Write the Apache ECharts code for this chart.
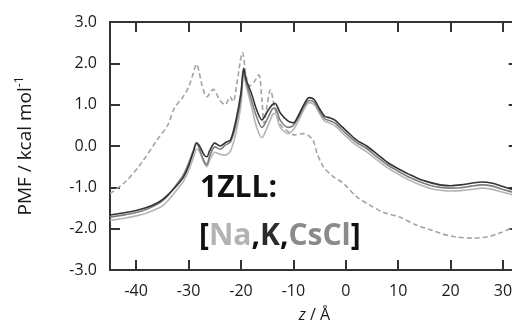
<!DOCTYPE html>
<html>
<head>
<meta charset="utf-8">
<script src="https://cdn.jsdelivr.net/npm/echarts@6/dist/echarts.min.js"></script>
<style>
  html, body { margin: 0; padding: 0; background: #fff; }
  #chart { width: 512px; height: 331px; }
  #err { position: absolute; left: 120px; top: 30px; font: 10px monospace; color: #c00; width: 380px; }
</style>
</head>
<body>
<div id="chart"></div>
<div id="err"></div>
<script>
window.onerror = (msg) => {
  document.getElementById("err").textContent += " ERR: " + msg;
};

// z positions (Å) for the three solid PMF curves
const zSolid = [-45, -42, -40, -38, -36, -35, -34, -33, -32, -31, -30, -29, -28.5, -28, -27, -26.5, -26, -25, -24, -23, -22, -21, -20, -19.5, -19, -18, -17, -16, -15, -14, -13.5, -12.5, -11, -10, -9, -8, -7, -6, -5, -4, -3, -2, -1, 0, 2, 4, 6, 8, 10, 12, 14, 16, 18, 20, 22, 24, 26, 28, 30, 33];

const pmfK = [-1.67, -1.61, -1.56, -1.49, -1.38, -1.3, -1.19, -1.06, -0.92, -0.76, -0.48, -0.1, 0.08, 0.02, -0.22, -0.26, -0.12, 0.07, 0.0, 0.08, 0.15, 0.6, 1.3, 1.88, 1.6, 1.27, 0.87, 0.63, 0.83, 1.0, 1.03, 0.8, 0.6, 0.56, 0.75, 1.0, 1.17, 1.12, 0.9, 0.72, 0.68, 0.62, 0.5, 0.38, 0.15, 0.0, -0.2, -0.4, -0.55, -0.68, -0.8, -0.88, -0.94, -0.96, -0.94, -0.9, -0.87, -0.9, -0.98, -1.1];

const pmfCsCl = [-1.72, -1.66, -1.61, -1.53, -1.41, -1.33, -1.21, -1.05, -0.88, -0.7, -0.42, -0.08, 0.06, -0.05, -0.38, -0.45, -0.25, -0.02, -0.08, 0.02, 0.1, 0.5, 1.2, 1.82, 1.55, 1.1, 0.7, 0.45, 0.65, 0.9, 0.92, 0.62, 0.45, 0.5, 0.7, 0.95, 1.1, 1.06, 0.84, 0.66, 0.61, 0.55, 0.43, 0.31, 0.09, -0.06, -0.27, -0.46, -0.61, -0.75, -0.86, -0.95, -1.0, -1.02, -1.01, -0.97, -0.94, -0.97, -1.05, -1.16];

const pmfNa = [-1.8, -1.74, -1.69, -1.62, -1.52, -1.45, -1.33, -1.18, -1.02, -0.86, -0.6, -0.25, -0.08, -0.12, -0.42, -0.5, -0.35, -0.15, -0.2, -0.22, -0.12, 0.3, 1.0, 1.72, 1.45, 0.95, 0.45, 0.2, 0.45, 0.75, 0.79, 0.45, 0.3, 0.4, 0.62, 0.88, 1.05, 1.0, 0.78, 0.6, 0.55, 0.48, 0.36, 0.24, 0.02, -0.14, -0.34, -0.53, -0.68, -0.82, -0.93, -1.02, -1.07, -1.09, -1.08, -1.05, -1.02, -1.05, -1.12, -1.22];

// dashed reference curve
const zDashed = [-45, -42, -39, -36, -34, -32.7, -31, -30, -29.2, -28.5, -28, -27.5, -26.5, -25.3, -24, -23, -22.1, -21.5, -20.8, -19.7, -19, -18.3, -17.5, -16.6, -16, -15.6, -15, -14.4, -13.5, -12.4, -11, -9.9, -8, -6.3, -5.5, -4.3, -2.4, -0.5, 2.1, 4.6, 7.1, 10.3, 13.4, 16, 18.5, 21, 24.2, 27.3, 29.5, 31.5, 33];
const pmfDashed = [-1.15, -0.86, -0.41, 0.15, 0.5, 0.92, 1.2, 1.43, 1.72, 1.98, 1.8, 1.5, 1.19, 1.37, 1.1, 1.0, 1.19, 1.07, 1.5, 2.26, 1.68, 1.45, 1.55, 1.72, 1.1, 0.55, 1.0, 1.36, 0.9, 0.5, 0.35, 0.27, 0.3, 0.15, -0.17, -0.5, -0.74, -0.9, -1.23, -1.43, -1.6, -1.72, -1.91, -2.02, -2.13, -2.2, -2.23, -2.19, -2.1, -2.0, -1.95];

const zTicks = [-40, -30, -20, -10, 0, 10, 20, 30];

const Z_MIN = -45;
const Z_MAX = 33;
const PMF_MIN = -3;
const PMF_MAX = 3;

const FONT = "'Open Sans', sans-serif";
const AXIS_COLOR = "#333";

const pairs = (xs, ys) => xs.map((x, i) => [x, ys[i]]);

const chart = echarts.init(document.getElementById("chart"), null, { renderer: "canvas" });

const lineSeries = (name, data, color, dashed) => ({
  name: name,
  type: "line",
  data: data,
  showSymbol: false,
  smooth: 0.3,
  lineStyle: {
    width: 1.6,
    color: color,
    type: dashed ? [5, 3] : "solid",
  },
  z: 3,
});

// ticks only show with onZero axes here, so each frame axis is pinned "on zero"
// of a hidden helper axis whose zero sits on the wanted edge
const frameLine = (helperIndex) => ({
  show: true,
  onZero: true,
  onZeroAxisIndex: helperIndex,
  lineStyle: { color: AXIS_COLOR, width: 2 },
});
const tick = (custom) => {
  const t = { show: true, inside: true, length: 10, lineStyle: { color: AXIS_COLOR, width: 2 } };
  if (custom) t.customValues = custom.slice();
  return t;
};
const helperAxis = (min, max) => ({
  type: "value",
  show: false,
  min: min,
  max: max,
  splitLine: { show: false },
});

const option = {
  backgroundColor: "#fff",
  animation: false,
  grid: {
    left: 110,
    top: 22,
    width: 408.7,
    height: 248,
    outerBoundsMode: "none",
  },
  xAxis: [
    {
      type: "value",
      min: Z_MIN,
      max: Z_MAX,
      position: "bottom",
      axisLine: frameLine(2),
      axisTick: tick(zTicks),
      axisLabel: {
        customValues: zTicks.slice(),
        color: "#1a1a1a",
        fontSize: 16,
        fontFamily: FONT,
        margin: 13,
      },
      splitLine: { show: false },
      name: "{i|z} / Å",
      nameLocation: "middle",
      nameGap: 37,
      nameTextStyle: {
        color: "#1a1a1a",
        fontSize: 16,
        fontFamily: FONT,
        rich: {
          i: { fontStyle: "italic", fontSize: 16, fontFamily: FONT, color: "#1a1a1a" },
        },
      },
    },
    {
      type: "value",
      min: Z_MIN,
      max: Z_MAX,
      position: "top",
      axisLine: frameLine(3),
      axisTick: tick(zTicks),
      axisLabel: { show: false },
      splitLine: { show: false },
    },
    helperAxis(0, Z_MAX - Z_MIN), // zero at the left edge
    helperAxis(Z_MIN - Z_MAX, 0), // zero at the right edge
  ],
  yAxis: [
    {
      type: "value",
      min: PMF_MIN,
      max: PMF_MAX,
      interval: 1,
      position: "left",
      axisLine: frameLine(2),
      axisTick: tick(null),
      axisLabel: {
        color: "#1a1a1a",
        fontSize: 16,
        fontFamily: FONT,
        margin: 13,
        formatter: (v) => v.toFixed(1),
      },
      splitLine: { show: false },
      name: "PMF / kcal mol{sup|-1}",
      nameLocation: "middle",
      nameGap: 72,
      nameTextStyle: {
        color: "#1a1a1a",
        fontSize: 19,
        fontFamily: FONT,
        rich: {
          sup: { fontSize: 12, fontFamily: FONT, color: "#1a1a1a", verticalAlign: "top", lineHeight: 24 },
        },
      },
    },
    {
      type: "value",
      min: PMF_MIN,
      max: PMF_MAX,
      interval: 1,
      position: "right",
      axisLine: frameLine(3),
      axisTick: tick(null),
      axisLabel: { show: false },
      splitLine: { show: false },
    },
    helperAxis(0, PMF_MAX - PMF_MIN), // zero at the bottom edge
    helperAxis(PMF_MIN - PMF_MAX, 0), // zero at the top edge
  ],
  graphic: [
    {
      type: "text",
      left: 200,
      top: 173,
      z: 10,
      style: {
        text: "1ZLL:",
        fill: "#111",
        font: "bold 30px 'Open Sans', sans-serif",
      },
    },
    {
      type: "text",
      left: 199,
      top: 221,
      z: 10,
      style: {
        text: "{b|[}{na|Na}{b|,}{k|K}{b|,}{cs|CsCl}{b|]}",
        font: "bold 30px 'Open Sans', sans-serif",
        rich: {
          b: { fill: "#111", font: "bold 30px 'Open Sans', sans-serif" },
          na: { fill: "#b3b3b3", font: "bold 30px 'Open Sans', sans-serif" },
          k: { fill: "#2b2b2b", font: "bold 30px 'Open Sans', sans-serif" },
          cs: { fill: "#8a8a8a", font: "bold 30px 'Open Sans', sans-serif" },
        },
      },
    },
  ],
  series: [
    lineSeries("dashed", pairs(zDashed, pmfDashed), "#a3a3a3", true),
    lineSeries("Na", pairs(zSolid, pmfNa), "#b5b5b5", false),
    lineSeries("CsCl", pairs(zSolid, pmfCsCl), "#7d7d7d", false),
    lineSeries("K", pairs(zSolid, pmfK), "#333333", false),
  ],
};

chart.setOption(option);
</script>
</body>
</html>
